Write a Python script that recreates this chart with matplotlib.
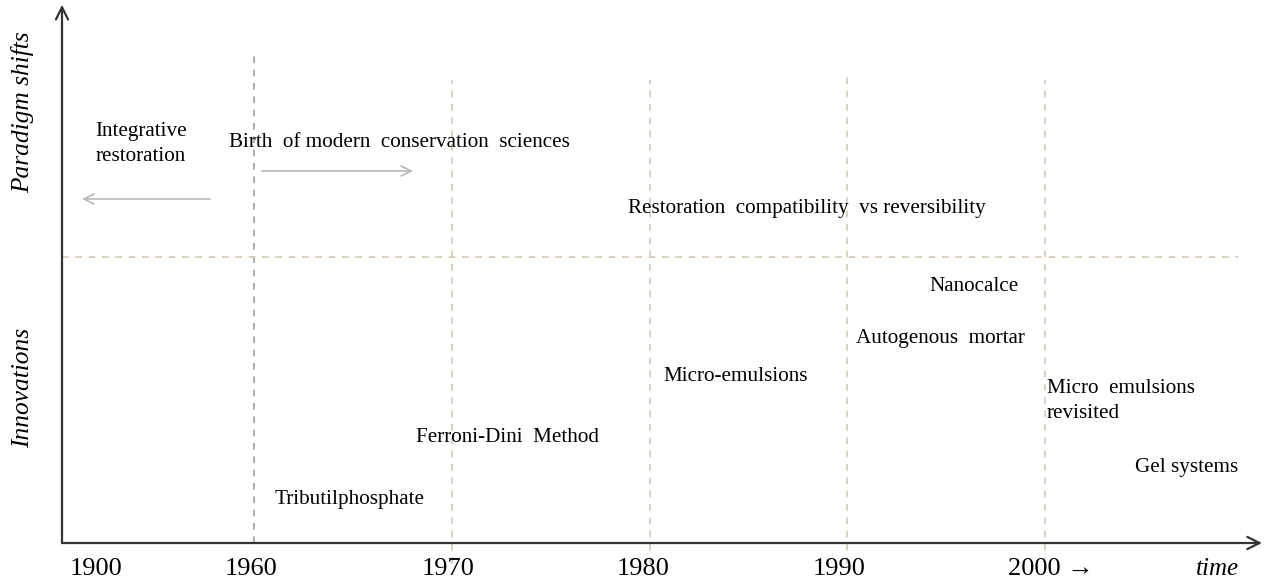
import matplotlib
matplotlib.use("Agg")
import matplotlib.pyplot as plt

plt.rcParams['font.family'] = ['Liberation Serif', 'DejaVu Serif']

# decade tick labels along the time axis
years = ['1900', '1960', '1970', '1980', '1990', '2000 \u2192']
year_pos = [-0.80, -0.015, 0.98, 1.97, 2.96, 4.03]

# vertical decade separators (x, top in axis-height fraction, colour)
sep_x = [0, 1, 2, 3, 4]
sep_top = [0.918, 0.866, 0.866, 0.880, 0.866]
sep_col = ['#a0a0a0', '#d8cba8', '#d8cba8', '#d8cba8', '#d8cba8']

# paradigm shifts (upper band)
shift_labels = ['Integrative\nrestoration',
                'Birth  of modern  conservation  sciences',
                'Restoration  compatibility  vs reversibility']
shift_x = [-0.801, -0.126, 1.892]
shift_y = [0.746, 0.748, 0.626]

# innovations (lower band)
innov_labels = ['Nanocalce', 'Autogenous  mortar', 'Micro-emulsions',
                'Micro  emulsions\nrevisited', 'Ferroni-Dini  Method',
                'Gel systems', 'Tributilphosphate']
innov_x = [3.413, 3.044, 2.068, 4.010, 0.819, 4.456, 0.106]
innov_y = [0.480, 0.383, 0.312, 0.265, 0.198, 0.142, 0.082]

fig = plt.figure(figsize=(12.71, 5.82), dpi=100)
ax = fig.add_axes([0, 0, 1, 1])
ax.set_xlim(-254 / 197.75, (1271 - 254) / 197.75)
ax.set_ylim(-39 / 535, 543 / 535)
ax.axis('off')

x0 = (62 - 254) / 197.75
xend = (1262 - 254) / 197.75

# main axes with arrows
ax.annotate('', xy=(xend, 0), xytext=(x0, 0),
            arrowprops=dict(arrowstyle='->', color='#333333', lw=1.6,
                            mutation_scale=22, shrinkA=0, shrinkB=0))
ax.annotate('', xy=(x0, 1.006), xytext=(x0, 0),
            arrowprops=dict(arrowstyle='->', color='#333333', lw=1.6,
                            mutation_scale=22, shrinkA=0, shrinkB=0))

# separators
for x, top, c in zip(sep_x, sep_top, sep_col):
    bottom = 0 if x == 0 else -0.04
    ax.plot([x, x], [bottom, top], ls=(0, (4, 4)), color=c, lw=1.2)

ax.plot([x0, (1238 - 254) / 197.75], [(543 - 257) / 535] * 2,
        ls=(0, (4, 4)), color='#d8cba8', lw=1.2)

# direction arrows
ax.annotate('', xy=((82 - 254) / 197.75, (543 - 199) / 535),
            xytext=((210 - 254) / 197.75, (543 - 199) / 535),
            arrowprops=dict(arrowstyle='->', color='#b8b8b8', lw=1.2,
                            mutation_scale=18, shrinkA=0, shrinkB=0))
ax.annotate('', xy=((413 - 254) / 197.75, (543 - 171) / 535),
            xytext=((262 - 254) / 197.75, (543 - 171) / 535),
            arrowprops=dict(arrowstyle='->', color='#b8b8b8', lw=1.2,
                            mutation_scale=18, shrinkA=0, shrinkB=0))

fs = 15.2
for lab, x, y in zip(shift_labels, shift_x, shift_y):
    ax.text(x, y, lab, fontsize=fs, ha='left', va='center', linespacing=1.4)
for lab, x, y in zip(innov_labels, innov_x, innov_y):
    ax.text(x, y, lab, fontsize=fs, ha='left', va='center', linespacing=1.4)

for lab, x in zip(years, year_pos):
    ax.text(x, -0.049, lab, fontsize=19, ha='center', va='center')
ax.text((1217 - 254) / 197.75, -0.049, 'time', fontsize=18, style='italic',
        ha='center', va='center')

ax.text((23 - 254) / 197.75, (543 - 112) / 535, 'Paradigm shifts', fontsize=18.3,
        style='italic', rotation=90, ha='center', va='center')
ax.text((23 - 254) / 197.75, (543 - 388) / 535, 'Innovations', fontsize=18.3,
        style='italic', rotation=90, ha='center', va='center')

fig.savefig('out.png', dpi=100)
